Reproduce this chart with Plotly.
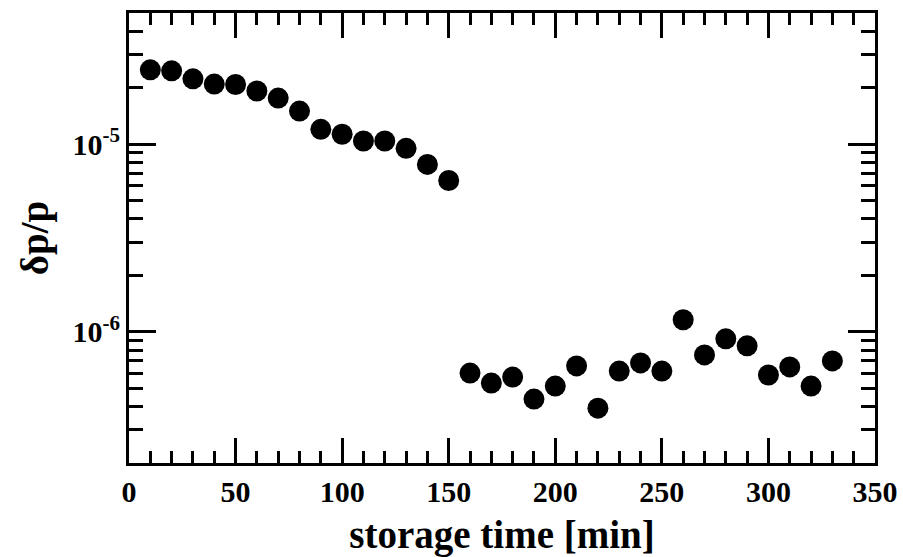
import plotly.graph_objects as go
import numpy as np

# storage time [min]
time_early = [10, 20, 30, 40, 50, 60, 70, 80, 90, 100, 110, 120, 130, 140, 150]
dpp_early = [2.49e-5, 2.46e-5, 2.23e-5, 2.09e-5, 2.08e-5, 1.92e-5, 1.76e-5, 1.50e-5,
             1.20e-5, 1.13e-5, 1.04e-5, 1.04e-5, 9.5e-6, 7.8e-6, 6.4e-6]
time_late = [160, 170, 180, 190, 200, 210, 220, 230, 240, 250, 260, 270, 280, 290,
             300, 310, 320, 330]
dpp_late = [6.03e-7, 5.33e-7, 5.74e-7, 4.38e-7, 5.14e-7, 6.58e-7, 3.92e-7, 6.18e-7,
            6.83e-7, 6.18e-7, 1.16e-6, 7.53e-7, 9.18e-7, 8.42e-7, 5.89e-7, 6.50e-7,
            5.14e-7, 7.00e-7]

y_major_vals = [1e-6, 1e-5]
y_major_text = ["10<sup>-6</sup>", "10<sup>-5</sup>"]
y_minor_vals = [2e-7, 3e-7, 4e-7, 5e-7, 6e-7, 7e-7, 8e-7, 9e-7,
                2e-6, 3e-6, 4e-6, 5e-6, 6e-6, 7e-6, 8e-6, 9e-6,
                2e-5, 3e-5, 4e-5, 5e-5]

FONT = "Liberation Serif"

fig = go.Figure()
fig.add_trace(go.Scatter(
    x=time_early + time_late, y=dpp_early + dpp_late, mode="markers",
    marker=dict(size=21, color="black"), showlegend=False))

fig.update_layout(
    width=903, height=557,
    margin=dict(l=129, r=28, t=13, b=94),
    paper_bgcolor="white", plot_bgcolor="white",
    font=dict(family=FONT, color="black", size=30, weight="bold"),
)
fig.update_xaxes(
    automargin=False,
    range=[0, 350], tickmode="linear", tick0=0, dtick=50,
    ticks="inside", ticklen=25, tickwidth=3, tickcolor="black",
    minor=dict(dtick=10, tick0=0, ticks="inside", ticklen=12, tickwidth=3, tickcolor="black"),
    showline=True, linewidth=3, linecolor="black", mirror="ticks",
    showgrid=False, zeroline=False,
    tickfont=dict(family=FONT, size=30, weight="bold"),
    title=dict(text="storage time [min]", font=dict(family=FONT, size=39, weight="bold"), standoff=22),
)
fig.update_yaxes(
    automargin=False,
    type="log", range=[np.log10(2e-7), np.log10(5e-5)],
    tickmode="array", tickvals=y_major_vals, ticktext=y_major_text,
    ticks="inside", ticklen=27, tickwidth=3, tickcolor="black",
    minor=dict(tickmode="array", tickvals=y_minor_vals, ticks="inside", ticklen=14,
               tickwidth=3, tickcolor="black"),
    showline=True, linewidth=3, linecolor="black", mirror="ticks",
    showgrid=False, zeroline=False,
    tickfont=dict(family=FONT, size=30, weight="bold"),
    title=dict(text="δp/p", font=dict(family=FONT, size=39, weight="bold"), standoff=12),
)

fig.write_html("out.html")
